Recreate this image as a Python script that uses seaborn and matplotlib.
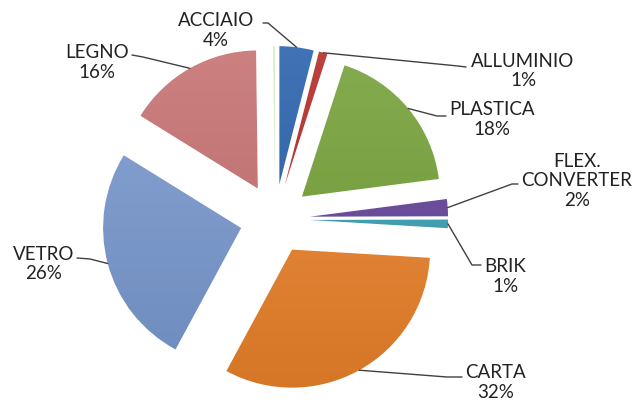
import numpy as np
import matplotlib
matplotlib.use("Agg")
import matplotlib.pyplot as plt
import matplotlib.colors as mcolors
import seaborn as sns

# ---- data ----
categories = ["ACCIAIO", "ALLUMINIO", "PLASTICA", "FLEX.\nCONVERTER", "BRIK",
              "CARTA", "VETRO", "LEGNO", "ALTRO"]
values = [4, 1, 18, 2, 1, 32, 26, 16, 0.2]
pct_labels = ["4%", "1%", "18%", "2%", "1%", "32%", "26%", "16%", ""]
colors = ["#2C64AE", "#B52E29", "#77A23A", "#66469A", "#3A9FB3",
          "#E8802A", "#7898CE", "#C77373", "#D9E6BF"]

# label layout (pixel positions of text block centres and leader elbows)
label_pos = [(216, 30.5), (523, 71), (492, 119.5), (577, 181), (505, 276.5),
             (496, 382.5), (44, 264), (97, 62.5), None]
leader_pts = [[(268, 23), (263, 23)],
              [(458, 66), (466, 67)],
              [(437, 116), (446, 116)],
              [(512, 184), (518, 184)],
              [(472, 265), (481, 265)],
              [(447, 377), (462, 377)],
              [(90, 259), (77, 258)],
              [(143, 57), (132, 55)],
              None]

sns.set_theme(style="white")
plt.rcParams["font.family"] = ["Lato", "DejaVu Sans"]

W, H = 638, 405
CX, CY, S = 275, 219, 138.0
EXPLODE = 0.254


def px(x, y):
    return ((x - CX) / S, (CY - y) / S)


fig = plt.figure(figsize=(W / 100, H / 100), dpi=100)
ax = fig.add_axes([0, 0, 1, 1])

wedges, _ = ax.pie(values, colors=colors, startangle=90, counterclock=False,
                   explode=[EXPLODE] * len(values), radius=1.0,
                   wedgeprops=dict(edgecolor="white", linewidth=0.8))

# gradient shading per wedge
for w, c in zip(wedges, colors):
    base = np.array(mcolors.to_rgb(c))
    light = np.clip(base + (1 - base) * 0.10, 0, 1)
    dark = base * 0.92
    t = np.linspace(0, 1, 64)[:, None]
    grad = light[None, :] * (1 - t) + dark[None, :] * t
    img = np.repeat(grad[:, None, :], 2, axis=1)
    cx, cy = w.center
    im = ax.imshow(img, extent=(cx - 1.05, cx + 1.05, cy - 1.05, cy + 1.05),
                   origin="upper", aspect="auto", zorder=w.get_zorder() + 0.1,
                   interpolation="bilinear")
    im.set_clip_path(w)

# labels & leader lines
for w, cat, pct, lp, pts in zip(wedges, categories, pct_labels, label_pos, leader_pts):
    if lp is None:
        continue
    mid = np.deg2rad((w.theta1 + w.theta2) / 2)
    cx, cy = w.center
    sx, sy = cx + w.r * np.cos(mid), cy + w.r * np.sin(mid)
    xs = [sx] + [px(*p)[0] for p in pts]
    ys = [sy] + [px(*p)[1] for p in pts]
    ax.plot(xs, ys, color="#404040", lw=1.0, zorder=5)
    tx, ty = px(*lp)
    ax.text(tx, ty, f"{cat}\n{pct}", ha="center", va="center", fontsize=13.5,
            color="#222222", linespacing=1.2, zorder=6)

ax.set_xlim(-CX / S, (W - CX) / S)
ax.set_ylim(-(H - CY) / S, CY / S)
ax.set_aspect("auto")
ax.axis("off")

fig.savefig("out.png", dpi=100, facecolor="white")
